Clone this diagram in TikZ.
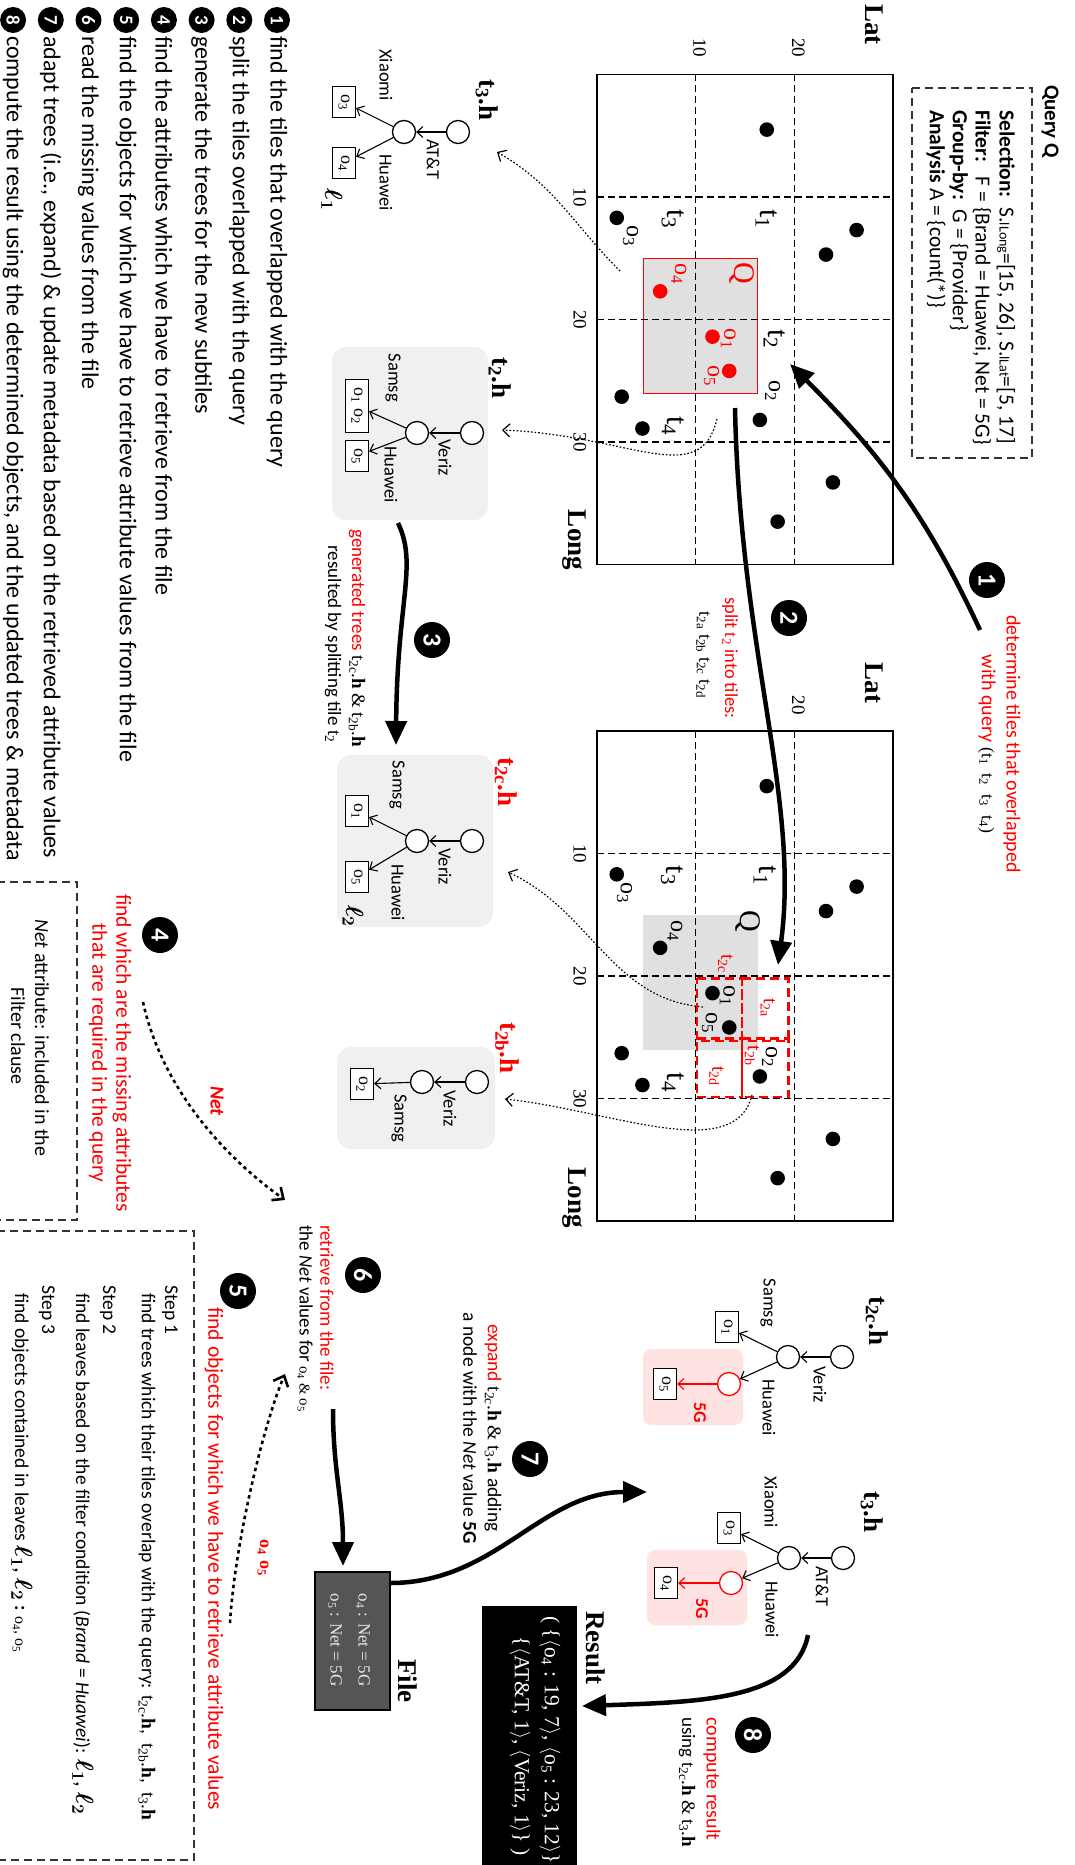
\documentclass[tikz,border=0pt]{standalone}
\usepackage{fontspec}
\usepackage{amsmath}
\setmainfont{Carlito}
\newfontfamily\tnr{Liberation Serif}
\usetikzlibrary{arrows.meta}
\newcommand{\fs}[1]{\fontsize{#1}{#1}\selectfont}
\newcommand{\tsb}[1]{{\tnr t\textsubscript{#1}}}
\newcommand{\thh}[1]{{\tnr t\textsubscript{#1}.\textbf{h}}}
\newcommand{\osb}[1]{{\tnr o\textsubscript{#1}}}
\newcommand{\lsb}[1]{$\boldsymbol{\ell}_{\boldsymbol{#1}}$}
\definecolor{boxgray}{HTML}{F0F0F0}
\definecolor{qgray}{HTML}{E0E0E0}
\definecolor{pinkbg}{HTML}{FFE3E3}
\definecolor{filegray}{HTML}{555555}
\definecolor{filetext}{HTML}{E8E8E8}
\definecolor{myred}{HTML}{FF0000}
\tikzset{
  mapdot/.style={circle, fill=black, inner sep=0pt, minimum size=14.6pt},
  rmapdot/.style={mapdot, fill=myred},
  gridline/.style={line width=1.1pt, dash pattern=on 7pt off 4pt},
  tlab/.style={font=\tnr\fs{30}, inner sep=0pt},
  olab/.style={font=\tnr\fs{24}, inner sep=0pt},
  ticklab/.style={font=\tnr\fs{19}, inner sep=0pt},
  axlab/.style={font=\tnr\bfseries\fs{27}, inner sep=0pt},
  tn/.style={circle, draw, line width=1.3pt, minimum size=23pt, inner sep=0pt, fill=white},
  rtn/.style={tn, draw=myred},
  leaf/.style={draw, line width=1.2pt, minimum width=31pt, minimum height=23pt, inner sep=0pt, font=\tnr\fs{18}, fill=white},
  tedge/.style={line width=1.1pt, -{Straight Barb[length=6pt,width=11pt]}},
  rtedge/.style={tedge, draw=myred},
  tlbl/.style={font=\fs{18.5}, inner sep=0pt},
  ttitle/.style={font=\tnr\bfseries\fs{27}, inner sep=0pt},
  bignum/.style={circle, fill=black, text=white, inner sep=0pt, minimum size=36pt, font=\bfseries\fs{26}},
  smallnum/.style={circle, fill=black, text=white, inner sep=0pt, minimum size=26pt, font=\bfseries\fs{19}},
  bigarrow/.style={line width=4.5pt, -{Triangle[length=24pt,width=21pt]}},
  dotarrow/.style={line width=1.2pt, dash pattern=on 1.6pt off 2pt, -{Straight Barb[length=7pt,width=13pt]}},
  dasharrow/.style={line width=2.6pt, dash pattern=on 3.5pt off 3.5pt, -{Straight Barb[length=9pt,width=16pt]}},
  note/.style={inner sep=0pt, align=center},
  steptxt/.style={font=\fs{24}, anchor=west, inner sep=0pt},
  boxdash/.style={line width=1.1pt, dash pattern=on 8pt off 5pt, draw=black!80},
}
\begin{document}
\begin{tikzpicture}[x=1pt,y=1pt]
\begin{scope}[rotate=-90, transform shape]
\useasboundingbox (0,0) rectangle (1865,1074);

% ================= MAP A =================
\begin{scope}[shift={(74.5,597)}, x=12.25pt, y=9.87pt]
  \draw[myred, line width=1pt, fill=qgray] (15,4.7) rectangle (26,16.3);
  \draw[gridline] (10,0)--(10,30) (20,0)--(20,30) (30,0)--(30,30) (0,10)--(40,10) (0,20)--(40,20);
  \draw[line width=1.6pt] (0,0) rectangle (40,30);
  \node[mapdot] (aP1) at (4.5,17.2) {};
  \node[mapdot] (aP2) at (12.7,26.3) {};
  \node[mapdot] (aP3) at (14.7,23.2) {};
  \node[mapdot] (aO3) at (11.7,2.0) {};
  \node[mapdot] (aP5) at (26.3,2.5) {};
  \node[mapdot] (aP6) at (28.9,4.6) {};
  \node[mapdot] (aO2) at (28.2,16.5) {};
  \node[mapdot] (aP8) at (33.3,23.9) {};
  \node[mapdot] (aP9) at (36.5,18.3) {};
  \node[rmapdot] (aO4) at (17.7,6.4) {};
  \node[rmapdot] (aO1) at (21.4,11.7) {};
  \node[rmapdot] (aO5) at (24.2,13.4) {};
  \node[tlab] (aT1) at (11.8,17.2) {t\textsubscript{1}};
  \node[tlab] (aT3) at (11.8,7.7) {t\textsubscript{3}};
  \node[tlab] (aT2) at (21.6,18.0) {t\textsubscript{2}};
  \node[tlab] (aT4) at (28.7,7.7) {t\textsubscript{4}};
  \node[tlab, text=myred] (aQ) at (16.2,14.7) {Q};
  \node[olab, text=myred] (aL4) at (16.3,8.3) {o\textsubscript{4}};
  \node[olab, text=myred] (aL1) at (21.6,13.3) {o\textsubscript{1}};
  \node[olab, text=myred] (aL5) at (24.6,11.6) {o\textsubscript{5}};
  \node[olab] (aL2) at (25.8,17.8) {o\textsubscript{2}};
  \node[olab] (aL3) at (13.2,3.4) {o\textsubscript{3}};
  \node[ticklab] (aX10) at (10,-1.75) {10};
  \node[ticklab] (aX20) at (20,-1.75) {20};
  \node[ticklab] (aX30) at (30,-1.75) {30};
  \node[ticklab] (aY10) at (-2.2,10.4) {10};
  \node[ticklab] (aY20) at (-2.2,20.4) {20};
  \node[axlab] (aLat) at (-4.1,28.1) {Lat};
  \node[axlab] (aLong) at (38.0,-2.3) {Long};
\end{scope}

% ================= MAP B =================
\begin{scope}[shift={(731,597)}, x=12.25pt, y=9.87pt]
  \fill[qgray] (15,4.7) rectangle (26,16.3);
  \draw[gridline] (10,0)--(10,30) (20,0)--(20,30) (30,0)--(30,30) (0,10)--(40,10) (0,20)--(40,20);
  \begin{scope}[myred, line width=2.2pt, dash pattern=on 9pt off 5pt]
    \draw (20.2,14.7) rectangle (25.3,19.4);
    \draw (25.1,14.7) rectangle (29.9,19.4);
    \draw (20.2,10.1) rectangle (25.3,14.7);
    \draw (25.1,10.1) rectangle (29.9,14.7);
  \end{scope}
  \draw[line width=1.6pt] (0,0) rectangle (40,30);
  \node[mapdot] (bP1) at (4.5,17.2) {};
  \node[mapdot] (bP2) at (12.7,26.3) {};
  \node[mapdot] (bP3) at (14.7,23.2) {};
  \node[mapdot] (bO3) at (11.7,2.0) {};
  \node[mapdot] (bP5) at (26.3,2.5) {};
  \node[mapdot] (bP6) at (28.9,4.6) {};
  \node[mapdot] (bO2) at (28.2,16.5) {};
  \node[mapdot] (bP8) at (33.3,23.9) {};
  \node[mapdot] (bP9) at (36.5,18.3) {};
  \node[mapdot] (bO4) at (17.7,6.4) {};
  \node[mapdot] (bO1) at (21.4,11.7) {};
  \node[mapdot] (bO5) at (24.2,13.4) {};
  \node[tlab] (bT1) at (11.8,17.0) {t\textsubscript{1}};
  \node[tlab] (bT3) at (11.8,7.6) {t\textsubscript{3}};
  \node[tlab] (bT4) at (28.7,7.7) {t\textsubscript{4}};
  \node[tlab] (bQ) at (15.5,15.3) {Q};
  \node[font=\tnr\fs{20}, text=myred, inner sep=0pt] (bTa) at (22.6,17.3) {t\textsubscript{2a}};
  \node[font=\tnr\fs{20}, text=myred, inner sep=0pt] (bTb) at (26.5,15.7) {t\textsubscript{2b}};
  \node[font=\tnr\fs{20}, text=myred, inner sep=0pt] (bTc) at (19.0,13.0) {t\textsubscript{2c}};
  \node[font=\tnr\fs{20}, text=myred, inner sep=0pt] (bTd) at (28.2,12.1) {t\textsubscript{2d}};
  \node[olab] (bL4) at (16.3,7.9) {o\textsubscript{4}};
  \node[olab] (bL1) at (21.6,13.2) {o\textsubscript{1}};
  \node[olab] (bL5) at (23.8,11.4) {o\textsubscript{5}};
  \node[olab] (bL2) at (26.6,17.5) {o\textsubscript{2}};
  \node[olab] (bL3) at (13.2,2.8) {o\textsubscript{3}};
  \node[ticklab] (bX10) at (10,-1.75) {10};
  \node[ticklab] (bX20) at (20,-1.75) {20};
  \node[ticklab] (bX30) at (30,-1.75) {30};
  \node[ticklab] (bY20) at (-2.1,20.4) {20};
  \node[axlab] (bLat) at (-3.9,28.1) {Lat};
  \node[axlab] (bLong) at (38.1,-2.3) {Long};
\end{scope}

% ================= Query box =================
\draw[boxdash] (88,912) rectangle (458,1032);
\node[font=\bfseries\fs{21}, anchor=west, inner sep=0pt] (qtitle) at (85,1050) {Query Q};
\begin{scope}[every node/.style={font=\fs{21.5}, anchor=west, inner sep=0pt}]
  \node (q1) at (110,1006) {\textbf{Selection:}\ \ S.{\fs{14}lLong}=[15, 26], S.{\fs{14}lLat}=[5, 17]};
  \node (q2) at (110,982) {\textbf{Filter:}\ \ \ F = \{Brand = Huawei, Net = 5G\}};
  \node (q3) at (110,959) {\textbf{Group-by:}\ \ G = \{Provider\}};
  \node (q4) at (110,936) {\textbf{Analysis} A = \{count(*)\}};
\end{scope}

% ================= Step list =================
\node[smallnum] (s1) at (20,277) {1};
\node[steptxt] (s1t) at (36,277) {find the tiles that overlapped with the query};
\node[smallnum] (s2) at (20,239.3) {2};
\node[steptxt] (s2t) at (36,239.3) {split the tiles overlapped with the query};
\node[smallnum] (s3) at (20,201.6) {3};
\node[steptxt] (s3t) at (36,201.6) {generate the trees for the new subtiles};
\node[smallnum] (s4) at (20,163.9) {4};
\node[steptxt] (s4t) at (36,163.9) {find the attributes which we have to retrieve from the file};
\node[smallnum] (s5) at (20,126.2) {5};
\node[steptxt] (s5t) at (36,126.2) {find the objects for which we have to retrieve attribute values from the file};
\node[smallnum] (s6) at (20,88.5) {6};
\node[steptxt] (s6t) at (36,88.5) {read the missing values from the file};
\node[smallnum] (s7) at (20,50.8) {7};
\node[steptxt] (s7t) at (36,50.8) {adapt trees (i.e., expand) \& update metadata based on the retrieved attribute values};
\node[smallnum] (s8) at (20,13.1) {8};
\node[steptxt] (s8t) at (36,13.1) {compute the result using the determined objects, and the updated trees \& metadata};

% ================= Tree t3.h (left) =================
\node[ttitle] (Atitle) at (100,487) {t\textsubscript{3}.h};
\node[tn] (Ar) at (132,458) {};
\node[tn] (Ac) at (132,404) {};
\node[leaf] (Ao3) at (102,344) {o\textsubscript{3}};
\node[leaf] (Ao4) at (163,344) {o\textsubscript{4}};
\draw[tedge] (Ar) -- (Ac);
\draw[tedge] (Ac) -- (Ao3);
\draw[tedge] (Ac) -- (Ao4);
\node[tlbl, anchor=west] (Al1) at (139,433) {AT\&T};
\node[tlbl, anchor=east] (Al2) at (101,386) {Xiaomi};
\node[tlbl, anchor=west] (Al3) at (154,386) {Huawei};
\node[font=\fs{27}, inner sep=0pt] (Aell) at (200,332) {\lsb{1}};

% ================= Tree t2.h (left) =================
\fill[boxgray, rounded corners=14pt] (347,332) rectangle (520,488);
\node[ttitle] (Btitle) at (378,500) {t\textsubscript{2}.h};
\node[tn] (Br) at (433,472) {};
\node[tn] (Bc) at (433,417) {};
\node[leaf, minimum width=53pt] (Bo12) at (406,357) {o\textsubscript{1} o\textsubscript{2}};
\node[leaf] (Bo5) at (456,357) {o\textsubscript{5}};
\draw[tedge] (Br) -- (Bc);
\draw[tedge] (Bc) -- (Bo12);
\draw[tedge] (Bc) -- (Bo5);
\node[tlbl, anchor=west] (Bl1) at (439,445) {Veriz};
\node[tlbl, anchor=east] (Bl2) at (402,393) {Samsg};
\node[tlbl, anchor=west] (Bl3) at (446,391) {Huawei};

% ================= Tree t2c.h (middle) =================
\fill[boxgray, rounded corners=14pt] (755,337) rectangle (927,493);
\node[ttitle, text=myred] (Ctitle) at (782,506) {t\textsubscript{2c}.h};
\node[tn] (Cr) at (841,472) {};
\node[tn] (Cc) at (841,417) {};
\node[leaf] (Co1) at (811,357) {o\textsubscript{1}};
\node[leaf] (Co5) at (877,357) {o\textsubscript{5}};
\draw[tedge] (Cr) -- (Cc);
\draw[tedge] (Cc) -- (Co1);
\draw[tedge] (Cc) -- (Co5);
\node[tlbl, anchor=west] (Cl1) at (848,445) {Veriz};
\node[tlbl, anchor=east] (Cl2) at (809,397) {Samsg};
\node[tlbl, anchor=west] (Cl3) at (864,398) {Huawei};
\node[font=\fs{27}, inner sep=0pt] (Cell) at (916,353) {\lsb{2}};

% ================= Tree t2b.h (middle) =================
\fill[boxgray, rounded corners=14pt] (1047,337) rectangle (1149,495);
\node[ttitle, text=myred] (Dtitle) at (1048,507) {t\textsubscript{2b}.h};
\node[tn] (Dr) at (1082,477) {};
\node[tn] (Dc) at (1082,422) {};
\node[leaf] (Do2) at (1084,362) {o\textsubscript{2}};
\draw[tedge] (Dr) -- (Dc);
\draw[tedge] (Dc) -- (Do2);
\node[tlbl, anchor=west] (Dl1) at (1090,450) {Veriz};
\node[tlbl, anchor=west] (Dl2) at (1094,399) {Samsg};

% ================= Tree t2c.h (right, expanded) =================
\fill[pinkbg, rounded corners=8pt] (1349,643) rectangle (1425,743);
\node[ttitle] (Etitle) at (1321,877) {t\textsubscript{2c}.h};
\node[tn] (Er) at (1357,842) {};
\node[tn] (Ec) at (1357,788) {};
\node[leaf] (Eo1) at (1327,727) {o\textsubscript{1}};
\node[rtn] (Ered) at (1384,729) {};
\node[leaf] (Eo5) at (1384,665) {o\textsubscript{5}};
\draw[tedge] (Er) -- (Ec);
\draw[tedge] (Ec) -- (Eo1);
\draw[tedge] (Ec) -- (Ered);
\draw[rtedge] (Ered) -- (Eo5);
\node[tlbl, anchor=west] (El1) at (1366,820) {Veriz};
\node[tlbl, anchor=east] (El2) at (1327,768) {Samsg};
\node[tlbl, anchor=west] (El3) at (1379,769) {Huawei};
\node[font=\bfseries\fs{18}, text=myred, inner sep=0pt] (E5g) at (1413,700) {5G};

% ================= Tree t3.h (right, expanded) =================
\fill[pinkbg, rounded corners=8pt] (1550,647) rectangle (1625,747);
\node[ttitle] (Ftitle) at (1512,872) {t\textsubscript{3}.h};
\node[tn] (Fr) at (1558,843) {};
\node[tn] (Fc) at (1558,789) {};
\node[leaf] (Fo3) at (1528,729) {o\textsubscript{3}};
\node[rtn] (Fred) at (1583,731) {};
\node[leaf] (Fo4) at (1583,666) {o\textsubscript{4}};
\draw[tedge] (Fr) -- (Fc);
\draw[tedge] (Fc) -- (Fo3);
\draw[tedge] (Fc) -- (Fred);
\draw[rtedge] (Fred) -- (Fo4);
\node[tlbl, anchor=west] (Fl1) at (1566,822) {AT\&T};
\node[tlbl, anchor=east] (Fl2) at (1528,771) {Xiaomi};
\node[tlbl, anchor=west] (Fl3) at (1581,772) {Huawei};
\node[font=\bfseries\fs{18}, text=myred, inner sep=0pt] (F5g) at (1609,702) {5G};

% ================= File & Result =================
\node[draw=black, fill=filegray, line width=1.2pt, minimum width=138pt, minimum height=75pt, inner sep=0pt] (file) at (1641,352.5) {};
\node[font=\tnr\fs{17}, text=filetext, inner sep=0pt] (f1) at (1640,363) {o\textsubscript{4} : Net = 5G};
\node[font=\tnr\fs{17}, text=filetext, inner sep=0pt] (f2) at (1640,335) {o\textsubscript{5} : Net = 5G};
\node[font=\tnr\bfseries\fs{27}, inner sep=0pt] (filelab) at (1681,408) {File};

\node[fill=black, minimum width=270pt, minimum height=95pt, inner sep=0pt, anchor=south west] (res) at (1606,482) {};
\node[font=\tnr\bfseries\fs{27}, inner sep=0pt] (reslab) at (1648,596) {Result};
\node[font=\tnr\fs{21.5}, text=white, anchor=west, inner sep=0pt] (r1) at (1616,550) {(\ \{$\langle$o\textsubscript{4} : 19, 7$\rangle$, $\langle$o\textsubscript{5} : 23, 12$\rangle$\}};
\node[font=\tnr\fs{21.5}, text=white, anchor=east, inner sep=0pt] (r2) at (1856,520) {\{$\langle$AT\&T, 1$\rangle$, $\langle$Veriz, 1$\rangle$\}\ )};

% ================= Step 4 / 5 boxes =================
\draw[boxdash] (882,-3) rectangle (1220,77);
\node[note, font=\fs{20}] (n4a) at (1038,42) {\emph{Net} attribute: included in the};
\node[note, font=\fs{20}] (n4b) at (1036,18) {Filter clause};

\draw[boxdash] (1231,-3) rectangle (1860,194);
\begin{scope}[every node/.style={font=\fs{19.5}, anchor=west, inner sep=0pt}]
  \node (st1) at (1285,170) {Step 1};
  \node (st1t) at (1293,147) {find trees which their tiles overlap with the query: \thh{2c},\ \ \thh{2b},\ \ \thh{3}};
  \node (st2) at (1285,108) {Step 2};
  \node (st2t) at (1293,83) {find leaves based on the filter condition (\emph{Brand} = \emph{Huawei}): {\fs{23}\lsb{1}, \lsb{2}}};
  \node (st3) at (1285,47) {Step 3};
  \node (st3t) at (1293,22) {find objects contained in leaves {\fs{23}\lsb{1}, \lsb{2}} \textbf{:} {\fs{16}\osb{4}, \osb{5}}};
\end{scope}

% ================= Numbered circles and notes =================
\node[bignum] (n1) at (580,987) {1};
\node[note, font=\fs{20}, text=myred] (n1a) at (744,1012) {determine tiles that overlapped};
\node[note, font=\fs{20}] (n1b) at (744,987) {\textcolor{myred}{with query} {\tnr\fs{18}(t\textsubscript{1}\ \ t\textsubscript{2}\ \ t\textsubscript{3}\ \ t\textsubscript{4})}};

\node[bignum] (n2) at (618,789) {2};
\node[note, font=\fs{18.5}, text=myred] (n2a) at (658,730) {split \tsb{2} into tiles:};
\node[note, font=\tnr\fs{18.5}] (n2b) at (655,703) {t\textsubscript{2a}\ t\textsubscript{2b}\ t\textsubscript{2c}\ t\textsubscript{2d}};

\node[bignum] (n3) at (640,432) {3};
\node[note, font=\fs{19}] (n3a) at (638,357) {\textcolor{myred}{generated trees} \thh{2c} {\tnr\&} \thh{2b}};
\node[note, font=\fs{19}] (n3b) at (644,333) {resulted by splitting tile \tsb{2}};

\node[bignum] (n4) at (935,160) {4};
\node[note, font=\fs{21.5}, text=myred] (n4c) at (1053,122) {find which are the missing attributes};
\node[note, font=\fs{21.5}, text=myred] (n4d) at (1053,98) {that are required in the query};
\node[font=\bfseries\itshape\fs{20}, text=myred, inner sep=0pt] (netlab) at (1101,217) {Net};

\node[bignum] (n5) at (1291,238) {5};
\node[font=\fs{21.5}, text=myred, anchor=west, inner sep=0pt] (n5a) at (1307,214) {find objects for which we have to retrieve attribute values};
\node[font=\tnr\bfseries\fs{18}, text=myred, inner sep=0pt] (o45) at (1558,263) {o\textsubscript{4} o\textsubscript{5}};

\node[bignum] (n6) at (1275,363) {6};
\node[font=\fs{19}, text=myred, anchor=west, inner sep=0pt] (n6a) at (1225,327) {retrieve from the file:};
\node[font=\fs{19}, anchor=west, inner sep=0pt] (n6b) at (1225,305) {the \emph{Net} values for {\tnr\fs{15}o\textsubscript{4} \& o\textsubscript{5}}};

\node[bignum] (n7) at (1459,530) {7};
\node[note, font=\fs{19.5}] (n7a) at (1428,493) {\textcolor{myred}{expand} \thh{2c} {\tnr\&} \thh{3} adding};
\node[note, font=\fs{19.5}] (n7b) at (1428,470) {a node with the \emph{Net} value \textbf{5G}};

\node[bignum] (n8) at (1735,753) {8};
\node[font=\fs{20}, text=myred, anchor=west, inner sep=0pt] (n8a) at (1717,712) {compute result};
\node[font=\fs{19}, anchor=west, inner sep=0pt] (n8b) at (1717,687) {using \thh{2c} {\tnr\&} \thh{3}};

% ================= Big arrows =================
\coordinate (a1s) at (630,980);
\coordinate (a1e) at (364,790);
\draw[bigarrow] (a1s) to[out=205,in=45] (a1e);
\coordinate (a2s) at (408,735);
\coordinate (a2e) at (965,778);
\draw[bigarrow] (a2s) .. controls (650,740) and (800,800) .. (a2e);
\coordinate (a3s) at (523,398);
\coordinate (a3e) at (745,396);
\draw[bigarrow] (a3s) .. controls (565,418) and (600,397) .. (a3e);
\coordinate (a6s) at (1409,333);
\coordinate (a6e) at (1566,343);
\draw[bigarrow] (a6s) .. controls (1470,333) and (1500,343) .. (a6e);
\coordinate (a7s) at (1583,390);
\coordinate (a7e) at (1492,647);
\draw[bigarrow] (a7s) to[out=90,in=-90] (a7e);
\coordinate (a8s) at (1635,808);
\coordinate (a8e) at (1706,582);
\draw[bigarrow] (a8s) .. controls (1700,795) and (1702,700) .. (a8e);

% ================= Dotted arrows =================
\coordinate (dAs) at (271,620);
\coordinate (dAe) at (152,497);
\draw[dotarrow] (dAs) to[out=225,in=60] (dAe);
\coordinate (dBs) at (419,717);
\coordinate (dBe) at (430,502);
\draw[dotarrow] (dBs) .. controls (490,700) and (435,630) .. (dBe);
\coordinate (dCs) at (1007,703);
\coordinate (dCe) at (872,508);
\draw[dotarrow] (dCs) to[out=265,in=65] (dCe);
\coordinate (dDs) at (1095,752);
\coordinate (dDe) at (1099,505);
\draw[dotarrow] (dDs) .. controls (1165,735) and (1110,610) .. (dDe);

\coordinate (d4s) at (1002,143);
\coordinate (d4e) at (1200,285);
\draw[dasharrow] (d4s) .. controls (1080,160) and (1150,215) .. (d4e);
\coordinate (d5s) at (1623,230);
\coordinate (d5e) at (1374,285);
\draw[dasharrow] (d5s) .. controls (1540,235) and (1420,265) .. (d5e);

\end{scope}
\end{tikzpicture}
\end{document}
